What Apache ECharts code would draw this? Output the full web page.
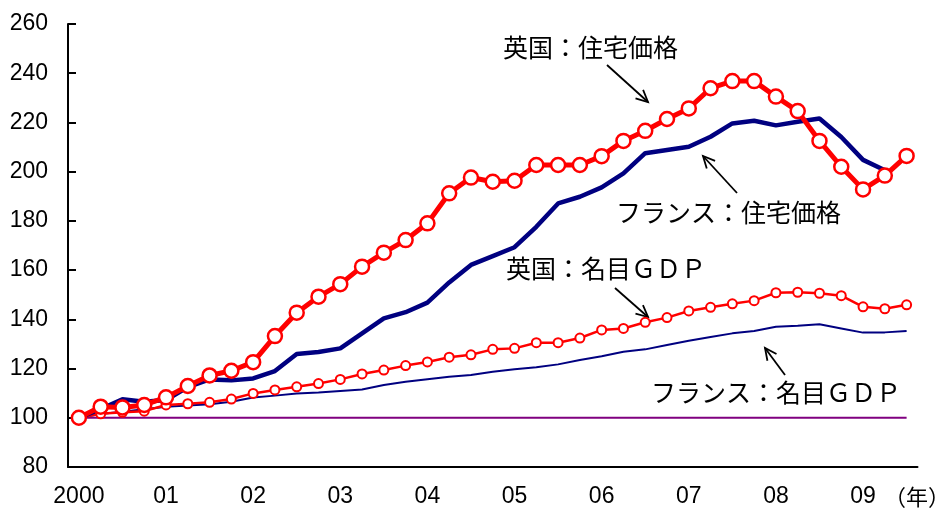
<!DOCTYPE html>
<html>
<head>
<meta charset="utf-8">
<script src="https://cdn.jsdelivr.net/npm/echarts@6/dist/echarts.min.js"></script>
<style>
  html, body { margin: 0; padding: 0; background: #fff; }
  #chart { width: 944px; height: 510px; }
</style>
</head>
<body>
<div id="chart"></div>
<script>
// 2000Q1 - 2009Q3
const years = ['2000', '01', '02', '03', '04', '05', '06', '07', '08', '09'];
const quarters = ['Q1', 'Q2', 'Q3', 'Q4'];
const categories = [];
years.forEach((y) => quarters.forEach((q) => categories.push(y + q)));
categories.length = 39;

const yTicks = { min: 80, max: 260, interval: 20 };

const ukHouse = [100, 104.5, 104.2, 105.2, 108.3, 112.9, 117.2, 119.1, 122.6, 133.2,
  142.7, 149.2, 154.3, 161.4, 167.1, 172.2, 179.0, 191.2, 197.6, 195.9,
  196.3, 202.7, 202.7, 202.7, 206.3, 212.5, 216.6, 221.4, 225.7, 233.9,
  236.8, 236.8, 230.5, 224.6, 212.5, 202.0, 192.8, 198.4, 206.4];
const frHouse = [100, 103.5, 107.5, 106.5, 107.2, 112.5, 115.6, 115.2, 116.0, 119.0,
  125.9, 126.7, 128.2, 134.3, 140.4, 142.9, 146.8, 155.0, 162.1, 165.7,
  169.3, 177.6, 187.1, 189.8, 193.6, 199.3, 207.5, 208.8, 210.1, 214.2,
  219.6, 220.7, 218.8, 220.3, 221.6, 214.1, 204.8, 200.6, null];
const ukGdp = [100, 101.6, 102.2, 102.7, 105.2, 105.7, 106.3, 107.6, 109.9, 111.3,
  112.6, 113.9, 115.6, 117.8, 119.4, 121.2, 122.7, 124.6, 125.6, 127.8,
  128.2, 130.5, 130.5, 132.4, 135.7, 136.3, 138.8, 140.7, 143.4, 144.9,
  146.3, 147.6, 150.8, 151.0, 150.6, 149.6, 145.1, 144.3, 145.9];
const frGdp = [100, 101.5, 102.5, 103.5, 104.5, 105.0, 105.5, 106.5, 108.2, 109.0,
  109.9, 110.3, 110.9, 111.5, 113.3, 114.6, 115.7, 116.7, 117.4, 118.7,
  119.7, 120.5, 121.7, 123.5, 125.0, 126.8, 127.8, 129.6, 131.3, 132.8,
  134.3, 135.3, 137.0, 137.4, 138.0, 136.3, 134.6, 134.7, 135.3];
const base = [100, 100, 100, 100, 100, 100, 100, 100, 100, 100,
  100, 100, 100, 100, 100, 100, 100, 100, 100, 100,
  100, 100, 100, 100, 100, 100, 100, 100, 100, 100,
  100, 100, 100, 100, 100, 100, 100, 100, 100];

const cjkFont = '"Noto Sans CJK JP", sans-serif';
const numFont = '"Liberation Sans", Arial, sans-serif';

// 矢印（注記用）
const arrow = (x1, y1, x2, y2) => {
  const a = Math.atan2(y2 - y1, x2 - x1);
  const len = 13;
  const sp = 0.45;
  const h1 = [x2 - len * Math.cos(a - sp), y2 - len * Math.sin(a - sp)];
  const h2 = [x2 - len * Math.cos(a + sp), y2 - len * Math.sin(a + sp)];
  return [
    { type: 'line', shape: { x1, y1, x2, y2 }, style: { stroke: '#000', lineWidth: 1.8 } },
    { type: 'polyline', shape: { points: [h1, [x2, y2], h2] }, style: { stroke: '#000', lineWidth: 1.8, fill: null } },
  ];
};

const note = (text, x, y) => ({
  type: 'text',
  x,
  y,
  style: { text, font: '25px ' + cjkFont, fill: '#000', textVerticalAlign: 'middle' },
});

const chart = echarts.init(document.getElementById('chart'));
const option = {
  animation: false,
  backgroundColor: '#fff',
  grid: { left: 68, right: 26.5, top: 24, bottom: 43 },
  xAxis: {
    type: 'category',
    data: categories,
    boundaryGap: true,
    axisLine: { lineStyle: { color: '#000', width: 2 } },
    axisTick: { show: false },
    axisLabel: {
      interval: 3,
      margin: 18,
      color: '#000',
      fontSize: 23,
      fontFamily: numFont,
      formatter: (v, i) => years[Math.floor(i / 4)],
    },
  },
  yAxis: {
    type: 'value',
    min: yTicks.min,
    max: yTicks.max,
    interval: yTicks.interval,
    axisLine: { show: true, lineStyle: { color: '#000', width: 2 } },
    axisTick: { show: true, inside: true, length: 8, lineStyle: { color: '#000', width: 2 } },
    splitLine: { show: false },
    axisLabel: { margin: 20, color: '#000', fontSize: 23, fontFamily: numFont },
  },
  series: [
    {
      name: '基準',
      type: 'line',
      data: base,
      symbol: 'none',
      lineStyle: { color: '#800080', width: 2 },
    },
    {
      name: 'フランス：名目ＧＤＰ',
      type: 'line',
      data: frGdp,
      symbol: 'none',
      lineStyle: { color: '#000080', width: 2 },
    },
    {
      name: '英国：名目ＧＤＰ',
      type: 'line',
      data: ukGdp,
      symbol: 'circle',
      symbolSize: 9,
      itemStyle: { color: '#fff', borderColor: '#ff0000', borderWidth: 2 },
      lineStyle: { color: '#ff0000', width: 2.5 },
    },
    {
      name: 'フランス：住宅価格',
      type: 'line',
      data: frHouse,
      symbol: 'none',
      lineStyle: { color: '#000080', width: 4.5 },
    },
    {
      name: '英国：住宅価格',
      type: 'line',
      data: ukHouse,
      symbol: 'circle',
      symbolSize: 14,
      itemStyle: { color: '#fff', borderColor: '#ff0000', borderWidth: 2.5 },
      lineStyle: { color: '#ff0000', width: 5 },
    },
  ],
  graphic: [
    note('英国：住宅価格', 503, 47),
    note('フランス：住宅価格', 616, 212),
    note('英国：名目ＧＤＰ', 506, 268),
    note('フランス：名目ＧＤＰ', 651, 392),
    { type: 'text', x: 884, y: 497, style: { text: '（年）', font: '22px ' + cjkFont, fill: '#000', textVerticalAlign: 'middle' } },
    ...arrow(607, 65, 648, 102),
    ...arrow(737, 193, 703, 156),
    ...arrow(615, 288, 648, 317),
    ...arrow(785, 375, 765, 348),
  ],
};
chart.setOption(option);
</script>
</body>
</html>
